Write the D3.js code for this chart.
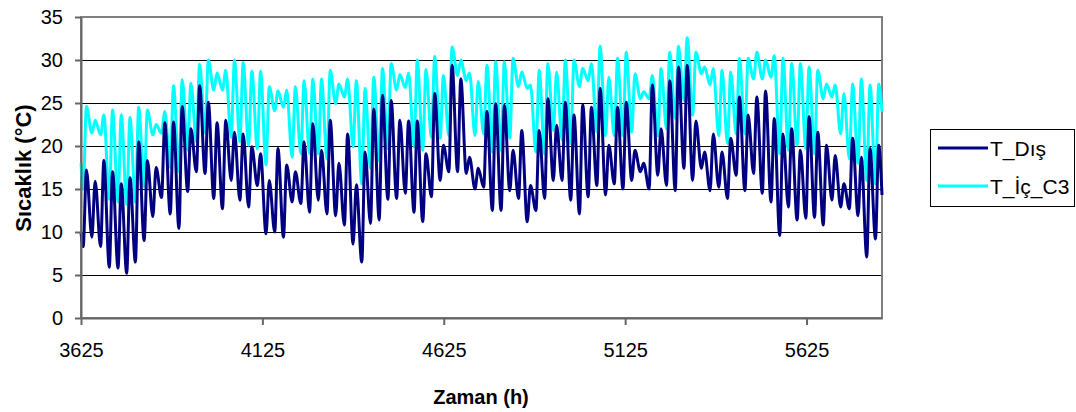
<!DOCTYPE html>
<html>
<head>
<meta charset="utf-8">
<script src="https://cdn.jsdelivr.net/npm/d3@7"></script>
<style>
  body { margin: 0; background: #fff; }
  text { font-family: Arial, "Liberation Sans", sans-serif; }
</style>
</head>
<body>
<div class="canvas"></div>
<script>
const startHour = 3625;
const endHour = 5833;
const lowHour = 6;    // hour of day of the daily low
const highHour = 15;  // hour of day of the daily high

const disFirst = 10, disLast = 14.3;
const disMin = [8.3, 9.4, 8.3, 5.9, 5.8, 5.2, 6.5, 9.0, 11.8, 14.0,
  12.1, 10.4, 14.7, 17.0, 16.8, 13.9, 12.7, 16.0, 13.7, 12.9,
  15.4, 9.8, 10.0, 9.4, 13.5, 13.3, 12.3, 13.7, 12.1, 11.9,
  10.8, 8.6, 6.5, 11.0, 11.4, 13.8, 13.9, 14.5, 12.3, 11.2,
  14.1, 16.0, 17.0, 17.0, 16.8, 15.0, 15.2, 12.5, 12.5, 14.8,
  13.9, 11.2, 12.5, 13.9, 16.0, 16.0, 13.7, 12.1, 14.1, 15.4,
  14.3, 15.6, 15.0, 16.0, 17.0, 15.0, 16.6, 15.4, 14.8, 17.4,
  16.0, 17.4, 14.8, 15.2, 13.9, 16.6, 14.8, 16.8, 14.5, 13.5,
  9.6, 12.9, 11.4, 11.6, 11.7, 10.8, 13.7, 12.9, 12.7, 11.9,
  7.1, 9.2];
const disMax = [17.2, 15.9, 18.3, 17.0, 15.6, 16.3, 20.5, 18.3, 17.5, 22.7,
  22.8, 24.6, 22.0, 27.0, 25.1, 22.7, 23.0, 21.6, 21.4, 19.9,
  19.1, 16.0, 19.7, 17.8, 17.0, 20.5, 22.6, 19.5, 23.0, 18.0,
  21.4, 15.5, 19.3, 24.3, 25.9, 25.3, 23.0, 22.9, 22.9, 19.1,
  26.1, 20.1, 29.4, 27.8, 18.7, 17.4, 24.0, 24.9, 24.7, 19.5,
  21.8, 15.4, 21.8, 25.5, 22.4, 25.1, 23.6, 24.8, 24.5, 26.7,
  20.1, 24.5, 25.1, 19.5, 18.0, 27.1, 22.0, 27.6, 29.2, 29.4,
  22.9, 19.3, 21.4, 19.3, 20.9, 25.7, 23.6, 25.7, 26.4, 23.2,
  21.4, 22.0, 19.5, 23.4, 21.6, 20.1, 18.9, 15.6, 20.9, 18.7,
  19.7, 20.1];

const icFirst = 18, icLast = 24;
const icMin = [15.0, 21.5, 21.3, 13.8, 13.5, 13.2, 13.5, 15.3, 21.3, 21.5,
  17.5, 17.0, 19.5, 20.5, 21.5, 26.5, 26.5, 21.0, 20.5, 20.1,
  19.7, 17.8, 24.1, 24.5, 18.7, 19.1, 19.1, 19.1, 18.5, 24.9,
  25.7, 19.9, 15.6, 17.4, 18.3, 19.7, 26.5, 26.8, 19.9, 19.5,
  21.0, 20.9, 21.2, 28.2, 27.6, 21.2, 21.4, 19.3, 19.5, 20.9,
  26.9, 26.7, 19.3, 19.1, 21.8, 20.7, 20.3, 26.9, 27.6, 21.6,
  21.2, 21.2, 21.2, 21.6, 25.5, 25.5, 21.2, 22.0, 23.2, 25.3,
  23.6, 28.4, 27.1, 21.2, 20.3, 21.4, 21.4, 27.8, 27.8, 28.0,
  19.1, 19.5, 20.1, 19.7, 19.1, 25.5, 25.7, 21.4, 18.5, 18.0,
  16.0, 15.6];
const icMax = [24.6, 23.0, 23.6, 24.2, 23.6, 23.3, 24.5, 24.2, 22.5, 24.0,
  27.0, 27.7, 27.3, 29.5, 30.0, 28.5, 28.8, 30.0, 29.7, 28.7,
  28.7, 26.9, 26.4, 26.5, 26.9, 27.6, 27.8, 27.8, 28.8, 27.2,
  27.8, 27.6, 26.7, 28.0, 29.0, 29.6, 28.3, 28.5, 30.0, 28.9,
  30.4, 28.2, 31.5, 30.0, 28.5, 27.5, 29.4, 29.8, 29.8, 30.2,
  28.6, 27.1, 28.8, 29.6, 28.6, 30.0, 30.0, 29.0, 29.6, 31.6,
  28.0, 30.2, 30.9, 28.4, 26.3, 28.2, 29.0, 30.9, 31.6, 32.6,
  30.9, 29.2, 29.0, 28.8, 28.6, 30.2, 30.2, 30.9, 30.0, 30.5,
  30.2, 29.6, 29.6, 29.2, 28.8, 27.2, 27.1, 26.1, 27.2, 27.8,
  27.1, 27.2];

const xTicks = [3625, 4125, 4625, 5125, 5625];
const yTicks = [0, 5, 10, 15, 20, 25, 30, 35];

const seriesNames = ['T_Dış', 'T_İç_C3'];
const seriesColors = ['#000080', '#00ffff'];

// build hourly-position points from the daily low/high arrays
const toPoints = (first, mins, maxs, last) => {
    const pts = [{h: startHour, v: first}];
    mins.forEach((m, d) => {
        pts.push({h: startHour + d * 24 + lowHour, v: m});
        pts.push({h: startHour + d * 24 + highHour, v: maxs[d]});
    });
    pts.push({h: endHour, v: last});
    return pts;
};

const disData = toPoints(disFirst, disMin, disMax, disLast);
const icData = toPoints(icFirst, icMin, icMax, icLast);

const plot = {left: 81, right: 882, top: 17, bottom: 318};

const svg = d3.select('.canvas')
    .append('svg')
    .attr('width', 1076)
    .attr('height', 412);

const x = d3.scaleLinear().domain([startHour, endHour]).range([plot.left, plot.right]);
const y = d3.scaleLinear().domain([0, 35]).range([plot.bottom, plot.top]);

// gridlines
svg.append('g')
    .selectAll('line')
    .data(yTicks.filter(t => t > 0 && t < 35))
    .enter().append('line')
    .attr('x1', plot.left).attr('x2', plot.right)
    .attr('y1', d => y(d)).attr('y2', d => y(d))
    .attr('stroke', '#000').attr('stroke-width', 1)
    .attr('shape-rendering', 'crispEdges');

// plot frame (top + right)
svg.append('rect')
    .attr('x', plot.left).attr('y', plot.top)
    .attr('width', plot.right - plot.left).attr('height', plot.bottom - plot.top)
    .attr('fill', 'none').attr('stroke', '#808080').attr('stroke-width', 2);

// series lines
const line = d3.line()
    .x(d => x(d.h))
    .y(d => y(d.v))
    .curve(d3.curveMonotoneX);

const plotArea = svg.append('g');
plotArea.append('path')
    .datum(icData)
    .attr('fill', 'none')
    .attr('stroke', seriesColors[1])
    .attr('stroke-width', 3)
    .attr('stroke-linejoin', 'round')
    .attr('d', line);
plotArea.append('path')
    .datum(disData)
    .attr('fill', 'none')
    .attr('stroke', seriesColors[0])
    .attr('stroke-width', 3)
    .attr('stroke-linejoin', 'round')
    .attr('d', line);

// axes
const xAxis = svg.append('g')
    .attr('transform', `translate(0,${plot.bottom})`)
    .call(d3.axisBottom(x).tickValues(xTicks).tickFormat(d3.format('d'))
        .tickSize(7).tickSizeOuter(0).tickPadding(18));
const yAxis = svg.append('g')
    .attr('transform', `translate(${plot.left},0)`)
    .call(d3.axisLeft(y).tickValues(yTicks).tickSize(6).tickSizeOuter(0).tickPadding(12));

[xAxis, yAxis].forEach(a => {
    a.select('.domain').attr('stroke', '#666').attr('stroke-width', 2);
    a.selectAll('.tick line').attr('stroke', '#666').attr('stroke-width', 2);
    a.selectAll('.tick text').attr('fill', '#000')
        .style('font-family', 'Arial, "Liberation Sans", sans-serif')
        .style('font-size', '20px');
});

// axis titles
svg.append('text')
    .attr('x', 481).attr('y', 404)
    .attr('text-anchor', 'middle')
    .style('font-size', '20px').style('font-weight', 'bold')
    .text('Zaman (h)');

svg.append('text')
    .attr('transform', 'translate(31,168) rotate(-90)')
    .attr('text-anchor', 'middle')
    .style('font-size', '22px').style('font-weight', 'bold')
    .text('Sıcaklık (°C)');

// legend
const legend = svg.append('g');
legend.append('rect')
    .attr('x', 930.5).attr('y', 129.5)
    .attr('width', 144).attr('height', 77)
    .attr('fill', '#fff').attr('stroke', '#000').attr('stroke-width', 1);

const items = legend.selectAll('.item')
    .data(seriesNames)
    .enter().append('g')
    .attr('class', 'item')
    .attr('transform', (d, i) => `translate(938,${148 + i * 38})`);
items.append('line')
    .attr('x1', 0).attr('x2', 50)
    .attr('stroke', (d, i) => seriesColors[i])
    .attr('stroke-width', 3);
items.append('text')
    .attr('x', 52).attr('y', 8)
    .style('font-size', '21px')
    .text(d => d);
</script>
</body>
</html>
